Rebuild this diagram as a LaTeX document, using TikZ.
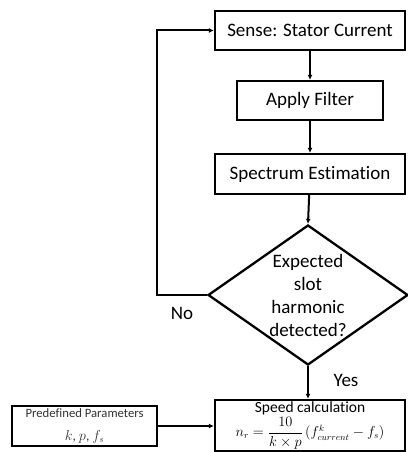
\documentclass[tikz,border=0pt]{standalone}
\usepackage{amsmath}
\usepackage{fontspec}
\setmainfont{Carlito}[Ligatures=NoCommon]
\usetikzlibrary{shapes.geometric,arrows.meta}

\tikzset{
  stepbox/.style={draw=black, line width=2.3pt, rectangle, inner sep=0pt,
    font=\fontsize{19}{23}\selectfont, align=center},
  decision/.style={draw=black, line width=2.3pt, diamond, inner sep=0pt,
    minimum width=200pt, minimum height=140pt},
  flow/.style={line width=2pt, -{Latex[length=5pt,width=5pt]}},
  tag/.style={font=\fontsize{19}{23}\selectfont, inner sep=0pt}
}

\begin{document}
\begin{tikzpicture}[x=1pt, y=-1pt]
  \useasboundingbox (0,0) rectangle (407,452);

  \node[stepbox, minimum width=190pt, minimum height=39pt] (sense) at (310,30.5) {Sense: Stator Current};
  \node[stepbox, minimum width=146pt, minimum height=39pt] (filter) at (310,100.5) {Apply Filter};
  \node[stepbox, minimum width=190pt, minimum height=40pt] (spec) at (310,174) {Spectrum Estimation};

  \node[decision] (check) at (308,295) {};
  \node[tag, align=center] (checktxt) at (check.center) {Expected\\slot\\harmonic\\detected?};

  \node[stepbox, minimum width=190pt, minimum height=51pt] (speed) at (310,425.5)
    {\fontsize{15.5}{17}\selectfont Speed calculation\\[1pt]
     \fontsize{13.5}{15}\selectfont $n_r=\dfrac{10}{k\times p}\,(f^{k}_{current}-f_s)$};
  \node[stepbox, minimum width=145pt, minimum height=40pt, text=black!80] (params) at (84.5,426)
    {\fontsize{12.7}{15}\selectfont Predefined Parameters\\
     \fontsize{13.5}{15}\selectfont $k$, $p$, $f_s$};

  \coordinate (back) at (157,295);

  \draw[flow] (sense) -- (filter);
  \draw[flow] (filter) -- (spec);
  \draw[flow] (spec) -- (check.north);
  \draw[flow] (check.south) -- (speed.north -| check.south);
  \draw[flow] (params) -- (speed.west |- params);
  \draw[flow] (check.west) -- (back) |- (sense.west);

  \node[tag] (no) at (182,313) {No};
  \node[tag] (yes) at (346,380) {Yes};
\end{tikzpicture}
\end{document}
